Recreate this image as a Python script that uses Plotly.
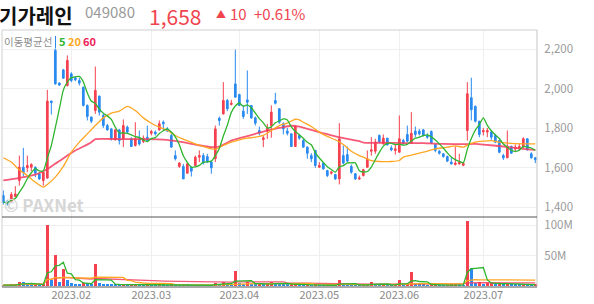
import pandas as pd
import plotly.graph_objects as go

# ---------------- data ----------------
holidays = ['2023-01-23', '2023-01-24', '2023-03-01', '2023-05-01',
            '2023-05-05', '2023-05-29', '2023-06-06']
dates = [d.strftime('%Y-%m-%d') for d in pd.bdate_range('2023-01-05', '2023-07-20')
         if d.strftime('%Y-%m-%d') not in holidays]

opens = [1460, 1431, 1431, 1455, 1536, 1603, 1600, 1603, 1603, 1570,
         1536, 1548, 1938, 2195, 2029, 2096, 2017, 2076, 2056, 2042,
         2008, 1916, 1857, 1890, 1963, 1865, 1814, 1797, 1742, 1792,
         1747, 1806, 1747, 1713, 1747, 1733, 1755, 1775, 1781, 1792,
         1831, 1797, 1764, 1662, 1607, 1607, 1573, 1603, 1612, 1654,
         1662, 1657, 1629, 1646, 1851, 1873, 1941, 1921, 2025, 1971,
         1887, 1944, 1916, 1853, 1789, 1743, 1786, 1814, 1941, 1899,
         1823, 1786, 1772, 1708, 1764, 1738, 1705, 1662, 1688, 1603,
         1624, 1586, 1573, 1566, 1544, 1662, 1667, 1607, 1570, 1544,
         1561, 1603, 1684, 1684, 1764, 1721, 1750, 1701, 1688, 1679,
         1738, 1769, 1725, 1786, 1786, 1792, 1764, 1784, 1718, 1684,
         1671, 1657, 1629, 1617, 1620, 1613, 1789, 1955, 1911, 1836,
         1782, 1781, 1781, 1764, 1738, 1662, 1651, 1708, 1696, 1696,
         1705, 1747, 1671, 1651]
highs = [1485, 1438, 1477, 1507, 1662, 1701, 1662, 1623, 1607, 1578,
         1578, 1995, 1940, 2205, 2034, 2101, 2169, 2084, 2062, 2056,
         2012, 1921, 1860, 2113, 1966, 1873, 1823, 1802, 1797, 1797,
         1845, 1814, 1755, 1831, 1789, 1764, 1814, 1792, 1789, 1840,
         1840, 1806, 1772, 1688, 1629, 1620, 1629, 1607, 1662, 1688,
         1674, 1671, 1637, 1814, 1860, 2034, 1949, 1944, 2198, 1975,
         1916, 2093, 1918, 1860, 1809, 1764, 1823, 1916, 1980, 1902,
         1831, 1802, 1775, 1814, 1772, 1747, 1708, 1674, 1690, 1629,
         1629, 1590, 1583, 1570, 1826, 1713, 1708, 1617, 1573, 1561,
         1595, 1688, 1755, 1747, 1769, 1769, 1752, 1713, 1721, 1865,
         1747, 1814, 1882, 1809, 1797, 1797, 1775, 1789, 1721, 1691,
         1674, 1662, 1654, 1708, 1671, 1629, 2034, 2056, 1916, 1838,
         1802, 1802, 1789, 1772, 1742, 1671, 1789, 1713, 1718, 1721,
         1755, 1750, 1679, 1654]
lows = [1414, 1409, 1426, 1451, 1510, 1556, 1578, 1583, 1553, 1539,
        1510, 1545, 1870, 2022, 2015, 2051, 2012, 2034, 2039, 2017,
        1911, 1840, 1826, 1873, 1865, 1802, 1789, 1738, 1738, 1718,
        1705, 1772, 1706, 1708, 1713, 1725, 1730, 1764, 1764, 1789,
        1789, 1781, 1701, 1637, 1600, 1544, 1570, 1556, 1607, 1629,
        1617, 1624, 1570, 1629, 1814, 1870, 1887, 1916, 1955, 1914,
        1848, 1873, 1848, 1814, 1764, 1705, 1747, 1752, 1921, 1823,
        1769, 1764, 1705, 1706, 1742, 1701, 1646, 1629, 1600, 1600,
        1590, 1553, 1566, 1539, 1516, 1617, 1629, 1570, 1539, 1539,
        1556, 1600, 1662, 1671, 1725, 1718, 1713, 1684, 1667, 1677,
        1718, 1730, 1721, 1755, 1764, 1759, 1747, 1721, 1679, 1667,
        1651, 1629, 1617, 1612, 1617, 1608, 1738, 1840, 1830, 1755,
        1764, 1755, 1742, 1725, 1674, 1640, 1649, 1671, 1679, 1688,
        1701, 1688, 1646, 1624]
closes = [1426, 1418, 1465, 1468, 1603, 1576, 1612, 1617, 1573, 1544,
          1578, 1938, 1931, 2025, 2019, 2054, 2144, 2042, 2046, 2029,
          1916, 1860, 1836, 1992, 1882, 1814, 1792, 1747, 1792, 1738,
          1814, 1781, 1708, 1747, 1721, 1750, 1738, 1784, 1772, 1823,
          1823, 1786, 1705, 1646, 1624, 1544, 1620, 1583, 1654, 1662,
          1624, 1629, 1600, 1797, 1840, 1941, 1899, 1927, 1958, 1916,
          1860, 1932, 1853, 1826, 1777, 1752, 1801, 1882, 1927, 1831,
          1797, 1775, 1708, 1809, 1750, 1705, 1674, 1646, 1612, 1612,
          1595, 1561, 1578, 1544, 1747, 1624, 1634, 1578, 1544, 1549,
          1590, 1646, 1691, 1730, 1733, 1750, 1716, 1691, 1696, 1747,
          1725, 1735, 1775, 1769, 1772, 1764, 1755, 1725, 1688, 1674,
          1657, 1634, 1620, 1624, 1627, 1622, 1975, 1894, 1836, 1769,
          1789, 1789, 1755, 1730, 1679, 1651, 1708, 1674, 1705, 1708,
          1747, 1691, 1651, 1641]
volumes_m = [1.2, 1.0, 1.5, 2.0, 7.0, 6.5, 2.5, 1.8, 2.2, 1.6,
             2.8, 100, 9.5, 51, 6.0, 28, 9.5, 4.0, 3.2, 3.0,
             4.5, 4.0, 3.0, 36, 4.0, 3.5, 2.5, 2.2, 1.8, 1.6,
             3.0, 1.8, 2.0, 2.6, 1.5, 1.2, 1.8, 1.0, 0.9, 1.8,
             1.5, 1.0, 1.8, 1.6, 1.2, 1.8, 1.5, 1.0, 1.3, 1.2,
             1.0, 0.8, 1.2, 5.5, 2.5, 7.0, 3.0, 1.8, 25, 4.5,
             3.0, 7.0, 3.2, 2.0, 2.2, 1.6, 2.5, 7.0, 5.5, 3.5,
             2.5, 1.8, 2.4, 3.0, 1.6, 1.5, 1.8, 1.3, 2.0, 1.2,
             1.0, 1.3, 0.8, 1.0, 10.4, 2.8, 2.0, 1.6, 1.2, 0.9,
             1.5, 2.2, 7.0, 3.0, 2.0, 2.2, 1.4, 1.0, 1.2, 10.0,
             2.5, 3.2, 23.6, 4.5, 2.5, 1.8, 1.2, 1.5, 1.8, 1.2,
             1.0, 1.3, 1.5, 2.5, 1.8, 1.0, 106, 29.6, 5.5, 7.0,
             3.0, 4.0, 4.5, 3.0, 3.5, 2.5, 5.5, 2.5, 1.8, 1.6,
             2.4, 2.0, 1.5, 1.8]
volumes = [v * 1e6 for v in volumes_m]

# 20- and 60-day moving averages (day index, price)
ma20_idx = [0, 2, 4, 6, 8, 10, 11, 13, 15, 17, 19, 21, 23, 25, 27, 29, 31, 33, 35,
            37, 39, 41, 43, 45, 48, 50, 52, 53, 55, 57, 59, 61, 63, 65, 67, 69, 71,
            73, 74, 75, 77, 79, 81, 83, 85, 87, 89, 90, 92, 94, 97, 99, 100, 102,
            105, 108, 111, 113, 115, 116, 118, 120, 122, 124, 126, 130, 133]
ma20_val = [1651, 1629, 1590, 1561, 1527, 1502, 1516, 1553, 1607, 1679, 1730, 1772,
            1814, 1853, 1877, 1887, 1911, 1890, 1853, 1826, 1806, 1789, 1764, 1745,
            1721, 1708, 1696, 1694, 1713, 1730, 1742, 1750, 1755, 1764, 1789, 1814,
            1826, 1846, 1843, 1831, 1809, 1781, 1759, 1742, 1718, 1684, 1662, 1654,
            1637, 1632, 1632, 1637, 1654, 1664, 1679, 1696, 1705, 1711, 1705, 1715,
            1730, 1735, 1738, 1730, 1725, 1721, 1721]
ma60_idx = [0, 4, 8, 10, 12, 14, 16, 18, 20, 22, 23, 25, 30, 35, 40, 44, 48, 52,
            54, 57, 60, 63, 66, 69, 72, 74, 77, 80, 83, 86, 89, 90, 95, 100, 105,
            110, 115, 118, 120, 125, 130, 133]
ma60_val = [1536, 1549, 1566, 1583, 1607, 1634, 1662, 1688, 1708, 1730, 1745, 1747,
            1745, 1745, 1743, 1733, 1718, 1705, 1708, 1738, 1755, 1772, 1789, 1802,
            1813, 1809, 1792, 1775, 1759, 1747, 1735, 1728, 1727, 1725, 1725, 1721,
            1720, 1721, 1718, 1708, 1696, 1691]

month_ticks = ['2023-02-01', '2023-03-02', '2023-04-03', '2023-05-02', '2023-06-01', '2023-07-03']
month_labels = ['2023.02', '2023.03', '2023.04', '2023.05', '2023.06', '2023.07']
price_ticks = [1400, 1600, 1800, 2000, 2200]
vol_ticks = [50e6, 100e6]
vol_labels = ['50M', '100M']

# ---------------- styles ----------------
RED = '#f5404f'
BLUE = '#2a8af0'
GREEN = '#2fb52f'
ORANGE = '#ffa623'
PINK = 'rgba(243,62,96,0.85)'
GRID = '#efefef'
FONT = 'Noto Sans CJK KR, Noto Sans, sans-serif'

W, H = 594, 304
L, R, T, B = 2, 57, 30, 17
PW, PH = W - L - R, H - T - B


def px(x):
    return (x - L) / PW


def py(y):
    return (H - B - y) / PH


close_s = pd.Series(closes)
ma5 = close_s.rolling(5, min_periods=1).mean()
vol_s = pd.Series(volumes)
vma5 = vol_s.rolling(5, min_periods=1).mean()
vma20 = vol_s.rolling(20, min_periods=1).mean()
vma60 = vol_s.rolling(60, min_periods=1).mean()
vol_colors = [RED] + [RED if volumes[i] >= volumes[i - 1] else BLUE for i in range(1, len(volumes))]

fig = go.Figure()
fig.add_trace(go.Candlestick(
    x=dates, open=opens, high=highs, low=lows, close=closes,
    increasing=dict(line=dict(color=RED, width=1), fillcolor=RED),
    decreasing=dict(line=dict(color=BLUE, width=1), fillcolor=BLUE),
    whiskerwidth=0, xaxis='x', yaxis='y', hoverinfo='skip'))
fig.add_trace(go.Scatter(x=[dates[i] for i in ma60_idx], y=ma60_val, mode='lines',
                         line=dict(color=PINK, width=1.8, shape='spline', smoothing=0.6),
                         xaxis='x', yaxis='y'))
fig.add_trace(go.Scatter(x=[dates[i] for i in ma20_idx], y=ma20_val, mode='lines',
                         line=dict(color=ORANGE, width=1.3, shape='spline', smoothing=0.6),
                         xaxis='x', yaxis='y'))
fig.add_trace(go.Scatter(x=dates, y=ma5, mode='lines',
                         line=dict(color=GREEN, width=1.3, shape='spline', smoothing=0.5),
                         xaxis='x', yaxis='y'))

fig.add_trace(go.Bar(x=dates, y=volumes, marker=dict(color=vol_colors, line=dict(width=0)),
                     width=0.72, xaxis='x2', yaxis='y2'))
fig.add_trace(go.Scatter(x=dates, y=vma60, mode='lines', line=dict(color=PINK, width=1.3),
                         xaxis='x2', yaxis='y2'))
fig.add_trace(go.Scatter(x=dates, y=vma20, mode='lines', line=dict(color=ORANGE, width=1.3),
                         xaxis='x2', yaxis='y2'))
fig.add_trace(go.Scatter(x=dates, y=vma5, mode='lines', line=dict(color=GREEN, width=1.3),
                         xaxis='x2', yaxis='y2'))

split = (H - B - 217) / PH
xr = [-0.33, len(dates) - 1 + 0.42]
common_x = dict(type='category', categoryorder='array', categoryarray=dates, range=xr,
                tickvals=month_ticks, showgrid=True, gridcolor=GRID, gridwidth=1,
                zeroline=False, showline=False, ticks='', fixedrange=True)

fig.update_layout(
    width=W, height=H, margin=dict(l=L, r=R, t=T, b=B),
    paper_bgcolor='white', plot_bgcolor='white', showlegend=False,
    font=dict(family=FONT, color='#999999', size=11),
    bargap=0, boxgap=0.4,
    xaxis=dict(common_x, domain=[0, 1], anchor='y', showticklabels=False,
               rangeslider=dict(visible=False)),
    xaxis2=dict(common_x, domain=[0, 1], anchor='y2', matches='x', showticklabels=True,
                ticktext=month_labels, tickfont=dict(size=11, color='#8a8a8a')),
    yaxis=dict(domain=[split, 1], anchor='x', side='right', range=[1351, 2298],
               tickvals=price_ticks, tickformat=',d', showgrid=True, gridcolor=GRID,
               zeroline=False, ticks='outside', ticklen=4, tickcolor='rgba(0,0,0,0)',
               tickfont=dict(size=11.5, color='#9a9a9a')),
    yaxis2=dict(domain=[0, split], anchor='x2', side='right', range=[-1.8e6, 113.2e6],
                tickvals=vol_ticks, ticktext=vol_labels, showgrid=True, gridcolor=GRID,
                zeroline=False, ticks='outside', ticklen=4, tickcolor='rgba(0,0,0,0)',
                tickfont=dict(size=11.5, color='#9a9a9a')),
)

# frame
shapes = [
    dict(type='line', xref='paper', yref='paper', x0=0, x1=1, y0=1, y1=1, line=dict(color='#cfcfcf', width=1)),
    dict(type='line', xref='paper', yref='paper', x0=0, x1=0, y0=0, y1=1, line=dict(color='#cfcfcf', width=1)),
    dict(type='line', xref='paper', yref='paper', x0=1, x1=1, y0=0, y1=1, line=dict(color='#c4c4c4', width=1)),
    dict(type='line', xref='paper', yref='paper', x0=0, x1=1, y0=split, y1=split, line=dict(color='#555555', width=1.2)),
    dict(type='line', xref='paper', yref='paper', x0=0, x1=1, y0=0, y1=0, line=dict(color='#555555', width=1.2)),
    dict(type='line', xref='paper', yref='paper', x0=px(55.5), x1=px(55.5), y0=py(36), y1=py(48),
         line=dict(color='#2a8af0', width=1)),
]
fig.update_layout(shapes=shapes)

ann = []


def add_text(text, x, y, size, color, bold=False, anchor='left', yanchor='middle'):
    ann.append(dict(text=('<b>%s</b>' % text) if bold else text, x=px(x), y=py(y),
                    xref='paper', yref='paper', xanchor=anchor, yanchor=yanchor,
                    showarrow=False, borderpad=0,
                    font=dict(family=FONT, size=size, color=color)))


add_text('기가레인', -2, 0, 20, '#111111', bold=True, yanchor='top')
add_text('049080', 84, 0.5, 15, '#999999', yanchor='top')
add_text('1,658', 148, 0, 21, '#f0454f', yanchor='top')
add_text('▲', 215, 13, 10, '#f0454f')
add_text('10', 229, 13, 15, '#f0454f')
add_text('+0.61%', 253, 13, 15, '#f0454f')
add_text('이동평균선', 3, 41.5, 10.5, '#8c8c8c')
add_text('<b>5</b>', 58, 41.5, 11, '#2fb52f')
add_text('<b>20</b>', 67, 41.5, 11, '#ffa623')
add_text('<b>60</b>', 82, 41.5, 11, '#ee1c5a')
add_text('© PAXNet', 3, 204, 17, '#d6d6d6', bold=True)
fig.update_layout(annotations=ann)

fig.write_html('out.html')
